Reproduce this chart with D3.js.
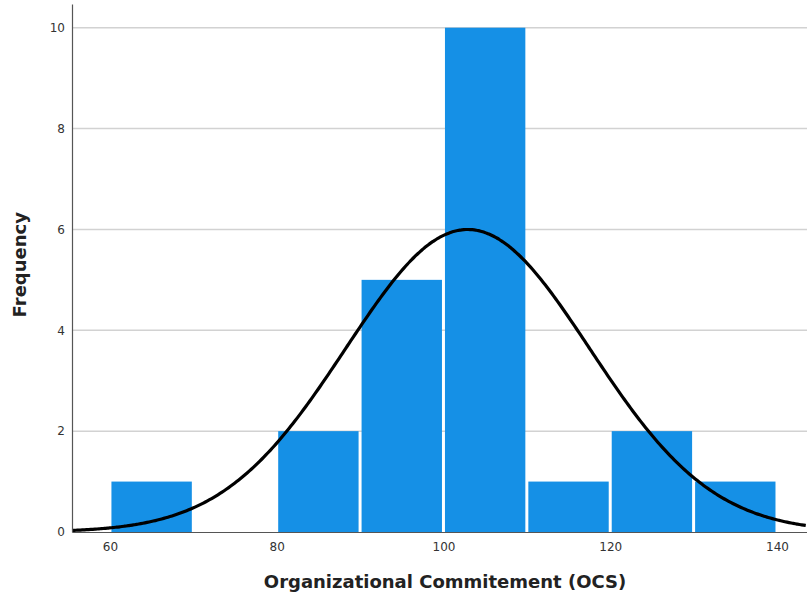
<!DOCTYPE html>
<html>
<head>
<meta charset="utf-8">
<script src="https://cdn.jsdelivr.net/npm/d3@7"></script>
<style>
  body { margin: 0; background: #fff; }
  svg { display: block; }
</style>
</head>
<body>
<script>
// DATA
const binStarts = [60, 70, 80, 90, 100, 110, 120, 130];
const binWidth = 10;
const frequencies = [1, 0, 2, 5, 10, 1, 2, 1];
const xTicks = [60, 80, 100, 120, 140];
const yTicks = [0, 2, 4, 6, 8, 10];
const curveMean = 102.9;
const curveStdDev = 14.63;
const curveN = 22;

// DEFS
const width = 807;
const height = 594;
const margin = {top: 4, right: 0, bottom: 62, left: 72};
const barColor = '#1590e6';
const tickFont = '12px "DejaVu Sans"';
const titleFont = 'bold 18px "DejaVu Sans"';

const svg = d3.select('body').append('svg').attr('width', width).attr('height', height);

const x = d3.scaleLinear().domain([55.45, 143.6]).range([margin.left, width - margin.right]);
const y = d3.scaleLinear().domain([0, 10.47]).range([height - margin.bottom, margin.top]);

// GRIDLINES
svg.append('g')
  .selectAll('line')
  .data(yTicks.filter(d => d > 0))
  .enter().append('line')
    .attr('x1', margin.left)
    .attr('x2', width - margin.right)
    .attr('y1', d => y(d))
    .attr('y2', d => y(d))
    .attr('stroke', '#d2d2d2')
    .attr('stroke-width', 1.5);

// BARS
svg.append('g')
  .selectAll('rect')
  .data(binStarts.map((b, i) => ({start: b, count: frequencies[i]})).filter(d => d.count > 0))
  .enter().append('rect')
    .attr('x', d => x(d.start) + 1.5)
    .attr('width', d => x(d.start + binWidth) - x(d.start) - 3)
    .attr('y', d => y(d.count))
    .attr('height', d => y(0) - y(d.count))
    .attr('fill', barColor);

// NORMAL CURVE (fitted from mean / sd / N)
const xs = d3.range(x.domain()[0], x.domain()[1] + 0.01, 0.25);
const normalDensity = v => curveN * binWidth / (curveStdDev * Math.sqrt(2 * Math.PI)) *
  Math.exp(-0.5 * Math.pow((v - curveMean) / curveStdDev, 2));
svg.append('path')
  .datum(xs)
  .attr('fill', 'none')
  .attr('stroke', '#000')
  .attr('stroke-width', 3.2)
  .attr('d', d3.line().x(d => x(d)).y(d => y(normalDensity(d))).curve(d3.curveBasis));

// AXES
const yAxis = svg.append('g')
  .attr('transform', `translate(${margin.left},0)`)
  .call(d3.axisLeft(y).tickValues(yTicks).tickSize(0).tickPadding(7));
yAxis.select('.domain').attr('stroke', '#555').attr('stroke-width', 1.2);
yAxis.selectAll('text').style('font', tickFont).attr('fill', '#333');

const xAxis = svg.append('g')
  .attr('transform', `translate(0,${y(0)})`)
  .call(d3.axisBottom(x).tickValues(xTicks).tickSize(0).tickPadding(10));
xAxis.select('.domain').attr('stroke', '#555').attr('stroke-width', 1.2);
xAxis.selectAll('text').style('font', tickFont).attr('fill', '#333');

// TITLES
svg.append('text')
  .attr('transform', `translate(26, ${y(5.3)}) rotate(-90)`)
  .attr('text-anchor', 'middle')
  .style('font', titleFont)
  .attr('fill', '#222')
  .text('Frequency');

svg.append('text')
  .attr('x', 445)
  .attr('y', 588)
  .attr('text-anchor', 'middle')
  .style('font', titleFont)
  .attr('fill', '#222')
  .text('Organizational Commitement (OCS)');
</script>
</body>
</html>
